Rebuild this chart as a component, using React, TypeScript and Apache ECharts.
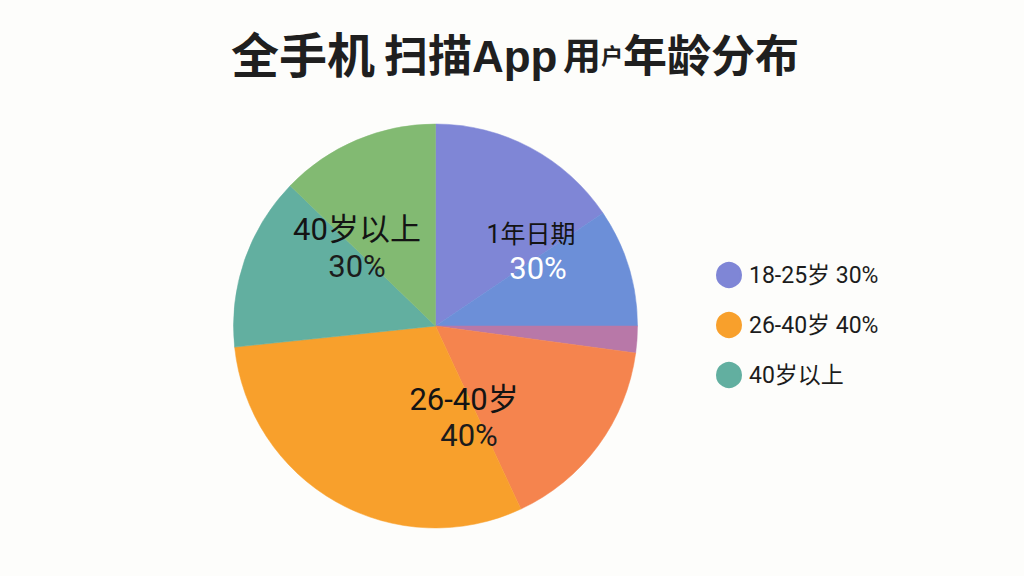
import { useEffect, useRef } from "react"
import * as echarts from "echarts"

const sliceNames = ["18-25岁 30%", "蓝色", "紫色", "橙红", "26-40岁 40%", "40岁以上", "绿色"]
const sliceValues = [56, 34, 7.7, 57.3, 109, 50, 46]
const sliceColors = ["#7F86D6", "#6C8FD8", "#B878A8", "#F5844E", "#F8A02C", "#62AFA0", "#82BA72"]
const legendNames = ["18-25岁 30%", "26-40岁 40%", "40岁以上"]

const labelNames = ["1年日期", "40岁以上", "26-40岁"]
const labelValues = ["30%", "30%", "40%"]
const labelSpots = [
  { x: 531, y: 234, size: 25, valueX: 538, valueY: 268, valueColor: "#fff" },
  { x: 357, y: 229, size: 31, valueX: 357, valueY: 266, valueColor: "#1c1c1c" },
  { x: 464, y: 399, size: 31, valueX: 469, valueY: 435, valueColor: "#1c1c1c" },
]

const cnFont = '"Roboto", "Noto Sans CJK SC", sans-serif'
const titleFont = '"Liberation Sans", "Noto Sans CJK SC", sans-serif'

const titleStyle = (fontSize: number) => ({
  fontFamily: titleFont,
  fontSize,
  fontWeight: 700,
  color: "#1f1f1f",
})

export default function App() {
  const chartRef = useRef<HTMLDivElement>(null)

  useEffect(() => {
    if (!chartRef.current) return
    const chart = echarts.init(chartRef.current, null, { renderer: "svg" })

    const labelTexts: any[] = []
    labelSpots.forEach((spot, i) => {
      labelTexts.push({
        type: "text",
        x: spot.x,
        y: spot.y,
        z: 100,
        silent: true,
        style: {
          text: labelNames[i],
          font: `400 ${spot.size}px ${cnFont}`,
          fill: "#141414",
          align: "center",
          verticalAlign: "middle",
        },
      })
      labelTexts.push({
        type: "text",
        x: spot.valueX,
        y: spot.valueY,
        z: 100,
        silent: true,
        style: {
          text: labelValues[i],
          font: `400 31px ${cnFont}`,
          fill: spot.valueColor,
          align: "center",
          verticalAlign: "middle",
          ...(i === 0 ? { shadowColor: "rgba(0,0,0,0.55)", shadowBlur: 2, shadowOffsetX: 1, shadowOffsetY: 1 } : {}),
        },
      })
    })

    chart.setOption({
      animation: false,
      backgroundColor: "#FDFDFB",
      title: {
        text: "{a|全手机}{s| }{b|扫描}{c|App}{t| }{d|用}{e|户}{f|年龄分布}",
        left: 226,
        top: 27,
        textStyle: {
          rich: {
            a: titleStyle(48),
            s: titleStyle(32),
            b: titleStyle(44),
            c: titleStyle(44),
            t: titleStyle(20),
            d: titleStyle(38),
            e: titleStyle(22),
            f: titleStyle(44),
          },
        },
      },
      legend: {
        data: legendNames,
        orient: "vertical",
        left: 711,
        top: 257,
        icon: "circle",
        itemWidth: 24,
        itemHeight: 24,
        itemGap: 24,
        selectedMode: false,
        textStyle: { fontFamily: cnFont, fontSize: 23, color: "#1c1c1c", padding: [0, 0, 0, 3] },
      },
      series: [
        {
          type: "pie",
          center: [435.5, 326],
          radius: 202,
          startAngle: 90,
          clockwise: true,
          silent: true,
          label: { show: false },
          labelLine: { show: false },
          data: sliceNames.map((name, i) => ({
            name,
            value: sliceValues[i],
            itemStyle: { color: sliceColors[i], borderColor: sliceColors[i], borderWidth: 0.5 },
          })),
        },
      ],
      graphic: labelTexts,
    })

    return () => chart.dispose()
  }, [])

  return <div ref={chartRef} style={{ position: "fixed", left: 0, top: 0, width: 1024, height: 576 }} />
}
